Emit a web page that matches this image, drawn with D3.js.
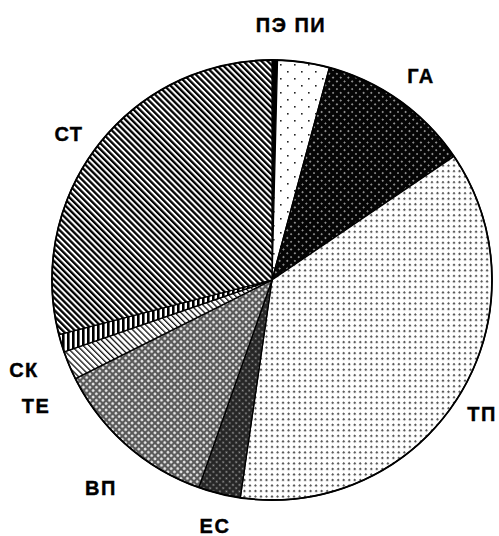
<!DOCTYPE html>
<html><head><meta charset="utf-8">
<script src="https://cdn.jsdelivr.net/npm/d3@7"></script>
<style>html,body{margin:0;padding:0;background:#fff;}svg{display:block;}</style>
</head><body>
<svg id="chart" width="499" height="536"></svg>
<script>
// Data (percent shares, clockwise from 12 o'clock)
const categories = ["ПЭ", "ПИ", "ГА", "ТП", "ЕС", "ВП", "ТЕ", "СК", "СТ"];
const values = [0.4, 3.8, 11.3, 36.8, 3.1, 12.2, 2.1, 1.3, 29.0];
const patternIds = ["pe", "pi", "ga", "tp", "es", "vp", "te", "sk", "st"];
// Label texts and anchor points
const labelTexts = ["ПЭ ПИ", "ГА", "ТП", "ЕС", "ВП", "ТЕ", "СК", "СТ"];
const labelX = [291, 421, 482, 215, 101, 36, 24, 69];
const labelY = [32, 83, 421, 533, 495, 413, 377, 141];

const svg = d3.select("#chart");
const defs = svg.append("defs");

function pat(id, w, h, tf) {
  const p = defs.append("pattern").attr("id", id).attr("patternUnits", "userSpaceOnUse")
    .attr("width", w).attr("height", h);
  if (tf) p.attr("patternTransform", tf);
  return p;
}
// ПЭ: solid black
pat("pe", 4, 4).append("rect").attr("width", 4).attr("height", 4).attr("fill", "#000");
// ПИ: white with sparse black dots
{ const p = pat("pi", 14, 14);
  p.append("rect").attr("width", 14).attr("height", 14).attr("fill", "#fff");
  p.append("rect").attr("x", 1).attr("y", 1).attr("width", 1.6).attr("height", 1.6).attr("fill", "#222");
  p.append("rect").attr("x", 8).attr("y", 8).attr("width", 1.6).attr("height", 1.6).attr("fill", "#222"); }
// ГА: black with small white dots
{ const p = pat("ga", 5.4, 5.4, "rotate(45)");
  p.append("rect").attr("width", 5.4).attr("height", 5.4).attr("fill", "#050505");
  p.append("circle").attr("cx", 2.7).attr("cy", 2.7).attr("r", 0.9).attr("fill", "#bbb"); }
// ТП: white with gray dots
{ const p = pat("tp", 7.8, 7.8, "rotate(45)");
  p.append("rect").attr("width", 7.8).attr("height", 7.8).attr("fill", "#fff");
  p.append("rect").attr("x", 0).attr("y", 0).attr("width", 2.1).attr("height", 2.1).attr("fill", "#5a5a5a");
  p.append("rect").attr("x", 3.9).attr("y", 3.9).attr("width", 2.1).attr("height", 2.1).attr("fill", "#5a5a5a"); }
// ЕС: dark crosshatch
{ const p = pat("es", 4.6, 4.6, "rotate(45)");
  p.append("rect").attr("width", 4.6).attr("height", 4.6).attr("fill", "#262626");
  p.append("circle").attr("cx", 2.3).attr("cy", 2.3).attr("r", 1.0).attr("fill", "#9a9a9a"); }
// ВП: medium gray crosshatch
{ const p = pat("vp", 4.6, 4.6, "rotate(45)");
  p.append("rect").attr("width", 4.6).attr("height", 4.6).attr("fill", "#5a5a5a");
  p.append("circle").attr("cx", 2.3).attr("cy", 2.3).attr("r", 1.35).attr("fill", "#eee"); }
// ТЕ: light diagonal thin lines
{ const p = pat("te", 4.2, 10, "rotate(-45)");
  p.append("rect").attr("width", 4.2).attr("height", 10).attr("fill", "#fff");
  p.append("rect").attr("width", 1.3).attr("height", 10).attr("fill", "#111"); }
// СК: vertical stripes
{ const p = pat("sk", 5, 10);
  p.append("rect").attr("width", 5).attr("height", 10).attr("fill", "#fff");
  p.append("rect").attr("width", 2.6).attr("height", 10).attr("fill", "#000"); }
// СТ: dense diagonal stripes
{ const p = pat("st", 4.3, 10, "rotate(-45)");
  p.append("rect").attr("width", 4.3).attr("height", 10).attr("fill", "#fff");
  p.append("rect").attr("width", 2.3).attr("height", 10).attr("fill", "#000"); }

const cx = 272, cy = 280, r = 220;
const pie = d3.pie().sort(null).value(d => d.v);
const arc = d3.arc().innerRadius(0).outerRadius(r);
const data = categories.map((c, i) => ({ c, v: values[i], p: patternIds[i] }));

const g = svg.append("g").attr("transform", `translate(${cx},${cy})`);
g.selectAll("path").data(pie(data)).join("path")
  .attr("d", arc)
  .attr("fill", d => `url(#${d.data.p})`)
  .attr("stroke", "#000").attr("stroke-width", 1.3).attr("stroke-linejoin", "round");
g.append("circle").attr("r", r).attr("fill", "none").attr("stroke", "#000").attr("stroke-width", 1.8);

svg.selectAll("text.lbl").data(labelTexts).join("text")
  .attr("class", "lbl")
  .attr("x", (d, i) => labelX[i]).attr("y", (d, i) => labelY[i])
  .attr("text-anchor", "middle")
  .attr("font-family", "'Liberation Sans', Arial, sans-serif")
  .attr("font-weight", "bold").attr("font-size", 20)
  .attr("letter-spacing", 1.5)
  .attr("fill", "#000")
  .attr("stroke", "#000").attr("stroke-width", 0.4)
  .text(d => d);
</script>
</body></html>
